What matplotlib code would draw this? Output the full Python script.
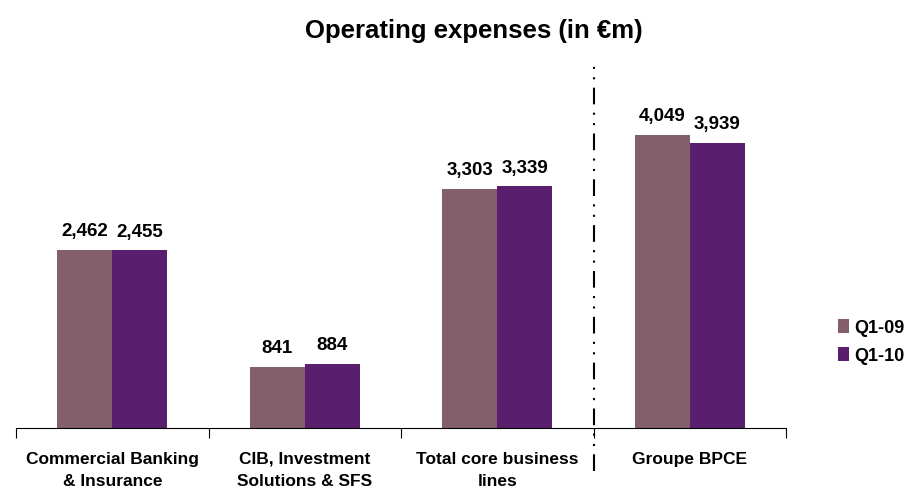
import matplotlib.pyplot as plt
import numpy as np

categories = ['Commercial Banking\n& Insurance', 'CIB, Investment\nSolutions & SFS',
              'Total core business\nlines', 'Groupe BPCE']
q1_09 = [2462, 841, 3303, 4049]
q1_10 = [2455, 884, 3339, 3939]
series_labels = ['Q1-09', 'Q1-10']

plt.rcParams['font.family'] = ['Liberation Sans', 'DejaVu Sans']

fig = plt.figure(figsize=(9.13, 4.93), dpi=100)
ax = fig.add_axes([16 / 913, 1 - 428 / 493, 770 / 913, 362 / 493])

x = np.arange(len(categories))
w = 0.286
b1 = ax.bar(x - w / 2, q1_09, w, color='#835e6b', label=series_labels[0])
b2 = ax.bar(x + w / 2, q1_10, w, color='#5a1e6e', label=series_labels[1])

for bars, vals in ((b1, q1_09), (b2, q1_10)):
    for bar, v in zip(bars, vals):
        ax.annotate(f'{v:,}', (bar.get_x() + bar.get_width() / 2, v),
                    xytext=(0, 7), textcoords='offset points',
                    ha='center', va='bottom', fontsize=13.5, fontweight='bold')

ax.set_xlim(-0.5, len(categories) - 0.5)
ax.set_ylim(0, 5000)

for s in ['top', 'right', 'left']:
    ax.spines[s].set_visible(False)
ax.spines['bottom'].set_linewidth(0.8)
ax.set_yticks([])

ax.set_xticks(x)
ax.set_xticklabels(categories, fontsize=12.5, fontweight='bold', linespacing=1.65)
ax.tick_params(axis='x', which='major', length=0, pad=17)
ax.set_xticks(np.arange(-0.5, len(categories), 1), minor=True)
ax.tick_params(axis='x', which='minor', length=7, width=0.8, direction='out')

# separator between business lines and group total
ax.plot([2.5, 2.5], [-0.12, 1.0], transform=ax.get_xaxis_transform(),
        color='black', lw=1.5, ls=(0, (8, 4, 1, 4, 1, 4)), clip_on=False)

ax.set_title('Operating expenses (in €m)', fontsize=18.5, fontweight='bold', pad=20)
ax.title.set_position((0.595, 1))

fig.legend(handles=[b1, b2], labels=series_labels, loc='center left',
           bbox_to_anchor=(838 / 913, 1 - 342 / 493), frameon=False,
           prop={'weight': 'bold', 'size': 13}, borderaxespad=0, borderpad=0,
           handlelength=0.6, handleheight=0.8, handletextpad=0.3, labelspacing=0.6)

plt.savefig('out.png', dpi=100)
